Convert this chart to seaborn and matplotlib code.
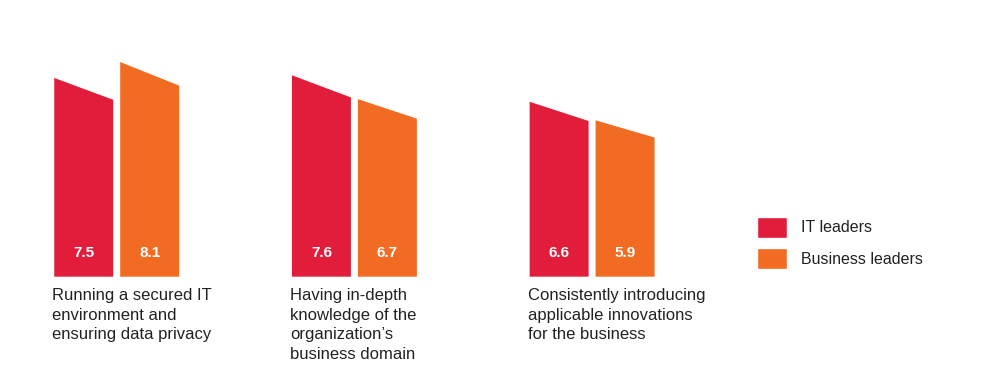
import numpy as np
import pandas as pd
import matplotlib
matplotlib.use("Agg")
import matplotlib.pyplot as plt
from matplotlib.patches import Polygon, Patch
import seaborn as sns

# Data
categories = ["Running a secured IT\nenvironment and\nensuring data privacy",
              "Having in-depth\nknowledge of the\norganization\u2019s\nbusiness domain",
              "Consistently introducing\napplicable innovations\nfor the business"]
groups = ["IT leaders", "Business leaders"]
it_scores = [7.5, 7.6, 6.6]
business_scores = [8.1, 6.7, 5.9]
colors = ["#E21D3C", "#F26B22"]

df = pd.DataFrame({
    "cat": categories * 2,
    "group": [groups[0]] * 3 + [groups[1]] * 3,
    "score": it_scores + business_scores,
})

sns.set_theme(style="white")
plt.rcParams['font.family'] = ['Liberation Sans', 'DejaVu Sans']

fig = plt.figure(figsize=(10, 3.81), dpi=100)
ax = fig.add_axes([0, 0.2738, 1, 0.6955])
sns.barplot(data=df, x="cat", y="score", hue="group", palette=colors,
            width=0.555, gap=0.106, ax=ax, legend=False, saturation=1)

# bars with slanted tops
slant = 0.89
for rect in list(ax.patches):
    x0, w, h = rect.get_x(), rect.get_width(), rect.get_height()
    fc = rect.get_facecolor()
    poly = Polygon([(x0, 0), (x0, h), (x0 + w, h * slant), (x0 + w, 0)],
                   closed=True, facecolor=fc, edgecolor="none")
    ax.add_patch(poly)
    ax.text(x0 + w / 2, 0.89, f"{h:.1f}", color="white", fontsize=11,
            fontweight="bold", ha="center", va="center")
    rect.remove()

for i, cat in enumerate(categories):
    ax.text(i - 0.271, -0.43, cat, ha="left", va="top", fontsize=12,
            color="#222222", linespacing=1.38, clip_on=False)

handles = [Patch(facecolor=c, label=g) for c, g in zip(colors, groups)]
fig.legend(handles=handles, loc="upper left", bbox_to_anchor=(0.757, 1 - 217 / 381),
           frameon=False, fontsize=11.5, handlelength=1.88, handleheight=1.6,
           handletextpad=0.9, labelspacing=0.66, borderpad=0, borderaxespad=0,
           labelcolor="#222222")

ax.set_xlim(-0.491, 3.716)
ax.set_ylim(0, 10)
ax.set_axis_off()

fig.savefig("out.png", dpi=100)
